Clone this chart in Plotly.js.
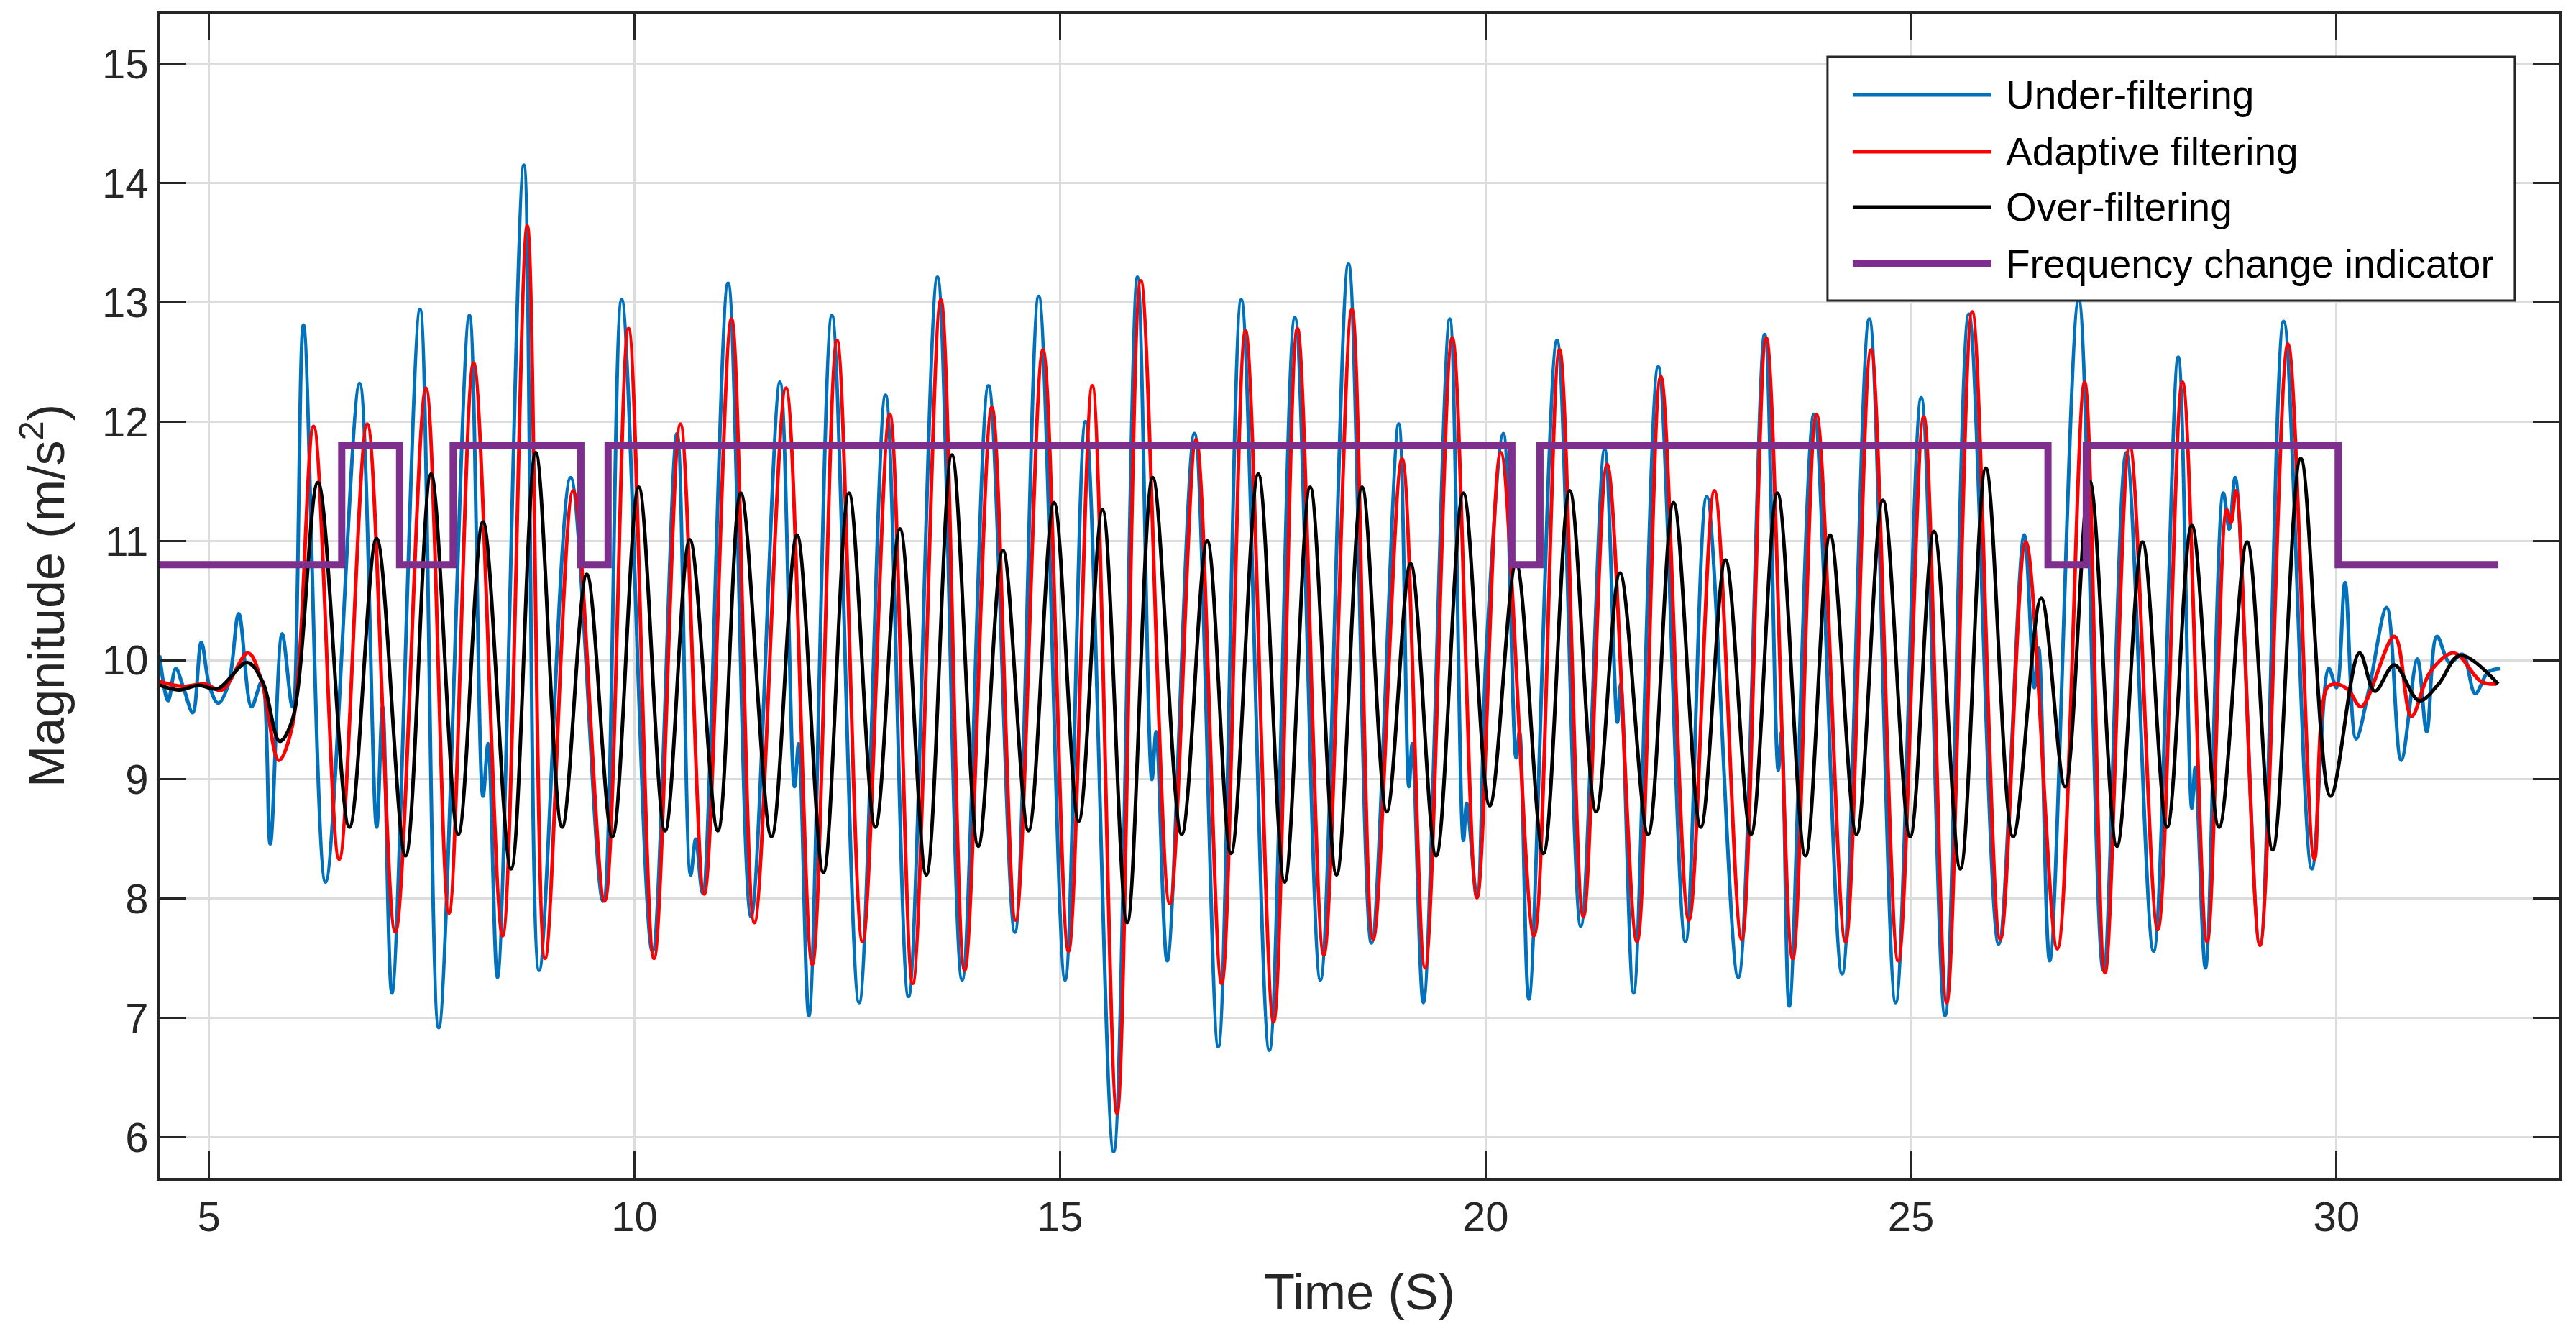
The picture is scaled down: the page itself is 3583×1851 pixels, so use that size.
<!DOCTYPE html>
<html>
<head>
<meta charset="utf-8">
<script src="https://cdn.plot.ly/plotly-3.0.1.min.js"></script>
<style>
  html, body { margin: 0; padding: 0; background: #ffffff; }
  #graph { width: 3583px; height: 1851px; }
</style>
</head>
<body>
<div id="graph"></div>
<script>
/* ----- Data (turning points of each signal) --------------------------- */

// Under-filtering (blue)
var underT = [4.42, 4.52, 4.61, 4.70, 4.81, 4.91, 5.01, 5.11, 5.23, 5.35, 5.50, 5.62, 5.72, 5.86, 5.98,
    6.11, 6.37, 6.77, 6.97, 7.04, 7.15, 7.48, 7.70, 8.06, 8.22, 8.28, 8.39, 8.70, 8.88, 9.25, 9.63,
    9.85, 10.21, 10.50, 10.66, 10.72, 10.80, 11.10, 11.37, 11.71, 11.88, 11.93, 12.05, 12.32, 12.64,
    12.95, 13.22, 13.56, 13.85, 14.16, 14.47, 14.75, 15.06, 15.30, 15.63, 15.91, 16.08, 16.13, 16.26,
    16.58, 16.86, 17.13, 17.46, 17.76, 18.06, 18.39, 18.66, 18.98, 19.10, 19.14, 19.27, 19.58, 19.74,
    19.78, 19.90, 20.01, 20.21, 20.36, 20.40, 20.51, 20.84, 21.12, 21.40, 21.55, 21.59, 21.74, 22.03,
    22.35, 22.60, 22.97, 23.28, 23.44, 23.48, 23.57, 23.86, 24.19, 24.51, 24.82, 25.12, 25.40, 25.68,
    26.03, 26.33, 26.45, 26.50, 26.63, 26.97, 27.26, 27.53, 27.85, 28.14, 28.30, 28.34, 28.46, 28.67,
    28.74, 28.81, 29.10, 29.38, 29.71, 29.91, 30.00, 30.10, 30.23, 30.38, 30.59, 30.76, 30.95, 31.06,
    31.18, 31.33, 31.48, 31.63, 31.78, 31.92];
var underY = [10.04, 9.66, 9.93, 9.77, 9.56, 10.15, 9.77, 9.64, 9.80, 10.39, 9.61, 9.82, 8.46, 10.22, 9.61,
    12.81, 8.14, 12.32, 8.60, 9.61, 7.21, 12.94, 6.92, 12.89, 8.86, 9.30, 7.34, 14.15, 7.40, 11.53, 7.98,
    13.02, 7.56, 11.90, 8.20, 8.50, 8.05, 13.16, 7.85, 12.33, 8.94, 9.30, 7.02, 12.89, 7.13,
    12.22, 7.18, 13.21, 7.32, 12.30, 7.72, 13.05, 7.32, 12.00, 5.88, 13.21, 9.00, 9.40, 7.48,
    11.90, 6.76, 13.02, 6.73, 12.87, 7.32, 13.32, 7.63, 11.98, 8.94, 9.30, 7.13, 12.86, 8.49,
    8.80, 8.01, 10.09, 11.90, 9.18, 9.40, 7.16, 12.68, 7.77, 11.77, 9.48, 9.80, 7.21, 12.46,
    7.64, 11.37, 7.34, 12.73, 9.08, 9.40, 7.10, 12.06, 7.37, 12.86, 7.13, 12.20, 7.02, 12.90,
    7.62, 11.05, 9.77, 10.10, 7.48, 13.02, 7.40, 11.74, 7.56, 12.54, 8.76, 9.10, 7.42, 11.40,
    11.10, 11.53, 7.61, 12.84, 8.25, 9.93, 9.77, 10.65, 9.34, 9.75, 10.44, 9.16, 10.01, 9.40,
    10.20, 9.98, 10.05, 9.72, 9.90, 9.93];

// Adaptive filtering (red)
var adaptiveT = [4.42, 4.70, 4.95, 5.15, 5.46, 5.62, 5.82, 5.98, 6.23, 6.53, 6.86, 7.19, 7.55, 7.82,
    8.11, 8.45, 8.74, 8.95, 9.28, 9.65, 9.93, 10.23, 10.54, 10.82, 11.14, 11.41, 11.78, 12.09, 12.38,
    12.68, 13.00, 13.27, 13.60, 13.88, 14.20, 14.48, 14.80, 15.10, 15.38, 15.67, 15.95, 16.29, 16.60,
    16.90, 17.18, 17.51, 17.79, 18.10, 18.43, 18.68, 19.02, 19.29, 19.61, 19.90, 20.18, 20.57, 20.87,
    21.15, 21.43, 21.78, 22.06, 22.39, 22.69, 23.01, 23.30, 23.61, 23.89, 24.23, 24.53, 24.85, 25.15,
    25.42, 25.72, 26.05, 26.35, 26.72, 27.04, 27.28, 27.57, 27.90, 28.19, 28.48, 28.71, 28.76, 28.82,
    29.10, 29.43, 29.74, 29.89, 30.00, 30.14, 30.29, 30.68, 30.88, 31.10, 31.38, 31.70, 31.88];
var adaptiveY = [9.82, 9.78, 9.80, 9.75, 10.06, 9.82, 9.16, 9.45, 11.96, 8.33, 11.98, 7.72, 12.28, 7.88,
    12.49, 7.69, 13.64, 7.50, 11.42, 7.98, 12.78, 7.50, 11.98, 8.04, 12.86, 7.80, 12.28, 7.45, 12.68,
    7.64, 12.06, 7.29, 13.02, 7.40, 12.12, 7.82, 12.60, 7.56, 12.30, 6.20, 13.18, 7.96, 11.85,
    7.29, 12.76, 6.97, 12.78, 7.53, 12.94, 7.66, 11.69, 7.42, 12.70, 8.01, 11.74, 7.69, 12.60,
    7.85, 11.64, 7.64, 12.38, 7.82, 11.42, 7.66, 12.70, 7.50, 12.06, 7.64, 12.60, 7.48, 12.04,
    7.13, 12.92, 7.66, 10.99, 7.58, 12.33, 7.38, 11.80, 7.74, 12.33, 7.64, 11.26, 11.15, 11.42,
    7.61, 12.65, 8.33, 9.77, 9.80, 9.75, 9.61, 10.20, 9.53, 9.90, 10.06, 9.82, 9.80];

// Over-filtering (black)
var overT = [4.42, 4.65, 4.88, 5.10, 5.45, 5.63, 5.83, 5.98, 6.28, 6.65, 6.97, 7.31, 7.61, 7.93, 8.22,
    8.55, 8.84, 9.15, 9.44, 9.74, 10.05, 10.36, 10.65, 10.98, 11.25, 11.61, 11.91, 12.22, 12.52, 12.83,
    13.12, 13.43, 13.73, 14.04, 14.33, 14.63, 14.93, 15.22, 15.50, 15.79, 16.09, 16.43, 16.73, 17.01,
    17.33, 17.64, 17.94, 18.25, 18.55, 18.84, 19.12, 19.42, 19.74, 20.05, 20.36, 20.68, 20.99, 21.30,
    21.58, 21.91, 22.21, 22.53, 22.82, 23.12, 23.43, 23.76, 24.05, 24.36, 24.67, 24.99, 25.27, 25.58,
    25.88, 26.20, 26.53, 26.81, 27.10, 27.42, 27.72, 28.01, 28.30, 28.62, 28.95, 29.25, 29.58, 29.93,
    30.27, 30.45, 30.68, 30.97, 31.20, 31.45, 31.90];
var overY = [9.79, 9.75, 9.79, 9.76, 9.98, 9.82, 9.32, 9.50, 11.49, 8.60, 11.02, 8.36, 11.56, 8.54, 11.16,
    8.25, 11.74, 8.60, 10.72, 8.52, 11.45, 8.57, 11.01, 8.57, 11.40, 8.52, 11.05, 8.22, 11.40, 8.60,
    11.10, 8.20, 11.72, 8.44, 10.92, 8.57, 11.32, 8.65, 11.26, 7.80, 11.53, 8.54, 11.00, 8.38,
    11.56, 8.14, 11.45, 8.20, 11.45, 8.73, 10.81, 8.36, 11.40, 8.78, 10.81, 8.38, 11.42, 8.73,
    10.73, 8.54, 11.32, 8.60, 10.84, 8.54, 11.40, 8.36, 11.05, 8.54, 11.34, 8.52, 11.08, 8.25,
    11.61, 8.52, 10.52, 8.94, 11.50, 8.44, 10.99, 8.60, 11.13, 8.60, 10.99, 8.41, 11.69, 8.86,
    10.06, 9.74, 9.96, 9.66, 9.80, 10.04, 9.80];

// Frequency change indicator (purple step)
var stepT = [4.42, 6.56, 7.24, 7.87, 9.37, 9.69, 20.31, 20.64, 26.61, 27.06, 30.02, 31.90];
var stepY = [10.8, 11.8, 10.8, 11.8, 10.8, 11.8, 10.8, 11.8, 10.8, 11.8, 10.8, 10.8];

var seriesNames = ['Under-filtering', 'Adaptive filtering', 'Over-filtering', 'Frequency change indicator'];
var seriesColors = ['rgb(0, 114, 189)', 'rgb(255, 0, 0)', 'rgb(0, 0, 0)', 'rgb(126, 47, 142)'];
var seriesWidths = [5, 5, 5, 10];

var xTicks = [5, 10, 15, 20, 25, 30];
var yTicks = [6, 7, 8, 9, 10, 11, 12, 13, 14, 15];

/* ----- Traces ------- */

var fontFamily = '"Liberation Sans", Arial, Helvetica, sans-serif';
var axisColor = '#262626';

function lineTrace(t, v, i, shape) {
    var line = {color: seriesColors[i], width: seriesWidths[i], shape: shape};
    if (shape === 'spline') line.smoothing = 1;
    return {
        x: t,
        y: v,
        mode: 'lines',
        name: seriesNames[i],
        showlegend: false,
        line: line
    };
}

var data = [
    lineTrace(underT, underY, 0, 'spline'),
    lineTrace(adaptiveT, adaptiveY, 1, 'spline'),
    lineTrace(overT, overY, 2, 'spline'),
    lineTrace(stepT, stepY, 3, 'hv')
];

/* ----- Legend box (MATLAB style: long line samples, drawn in paper space) ------- */

var legendBox = {x0: 0.6950, x1: 0.9814, y0: 0.7536, y1: 0.9629};
var legendRows = [0.9302, 0.8814, 0.8338, 0.7851];
var sampleX = [0.7055, 0.7633];
var labelX = 0.7687;

var shapes = [{
    type: 'rect', xref: 'paper', yref: 'paper', layer: 'above',
    x0: legendBox.x0, x1: legendBox.x1, y0: legendBox.y0, y1: legendBox.y1,
    fillcolor: '#ffffff',
    line: {color: axisColor, width: 3}
}];
var annotations = [];
for (var i = 0; i < seriesNames.length; i++) {
    shapes.push({
        type: 'line', xref: 'paper', yref: 'paper', layer: 'above',
        x0: sampleX[0], x1: sampleX[1], y0: legendRows[i], y1: legendRows[i],
        line: {color: seriesColors[i], width: seriesWidths[i]}
    });
    annotations.push({
        xref: 'paper', yref: 'paper',
        x: labelX, y: legendRows[i],
        xanchor: 'left', yanchor: 'middle',
        showarrow: false,
        text: seriesNames[i],
        font: {family: fontFamily, size: 55, color: '#000000'}
    });
}

/* ----- Layout ------- */

function axisStyle(range, ticks, titleText, standoff) {
    return {
        range: range,
        autorange: false,
        tickmode: 'array',
        tickvals: ticks,
        ticks: 'inside',
        ticklen: 37,
        tickwidth: 3,
        tickcolor: axisColor,
        mirror: 'ticks',
        showline: true,
        linecolor: axisColor,
        linewidth: 4,
        showgrid: true,
        gridcolor: '#dcdcdc',
        gridwidth: 3,
        zeroline: false,
        tickfont: {family: fontFamily, size: 58, color: axisColor},
        title: {
            text: titleText,
            standoff: standoff,
            font: {family: fontFamily, size: 70, color: axisColor}
        }
    };
}

var layout = {
    width: 3583,
    height: 1851,
    paper_bgcolor: '#ffffff',
    plot_bgcolor: '#ffffff',
    margin: {l: 222, r: 23, t: 19, b: 213},
    xaxis: axisStyle([4.42, 32.62], xTicks, 'Time (S)', 50),
    yaxis: axisStyle([5.66, 15.42], yTicks, 'Magnitude (m/s<sup>2</sup>)', 30),
    showlegend: false,
    shapes: shapes,
    annotations: annotations
};

var graph = document.getElementById('graph');
Plotly.newPlot(graph, data, layout, {staticPlot: true});
</script>
</body>
</html>
